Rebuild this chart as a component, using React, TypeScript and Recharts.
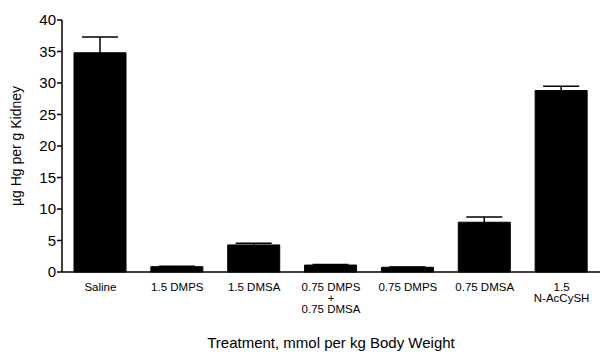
import { BarChart, Bar, XAxis, YAxis, ErrorBar, Cell } from "recharts";

const treatments = [
  "Saline",
  "1.5 DMPS",
  "1.5 DMSA",
  "0.75 DMPS|+|0.75 DMSA",
  "0.75 DMPS",
  "0.75 DMSA",
  "1.5|N-AcCySH",
];
const hgKidney = [34.8, 0.85, 4.3, 1.1, 0.75, 7.9, 28.8];
const sem = [2.5, 0.05, 0.25, 0.1, 0.05, 0.85, 0.7];
const yTicks = [0, 5, 10, 15, 20, 25, 30, 35, 40];

const FONT = "'Liberation Sans', Arial, sans-serif";

const data = treatments.map((name, i) => ({
  name,
  value: hgKidney[i],
  err: sem[i],
}));

function TreatmentTick(props: any) {
  const { x, y, payload } = props;
  const lines = String(payload.value).split("|");
  return (
    <text
      x={x}
      y={y}
      textAnchor="middle"
      fontFamily={FONT}
      fontSize={11.5}
      fill="#000"
    >
      {lines.map((line, i) => (
        <tspan key={i} x={x} dy={11}>
          {line}
        </tspan>
      ))}
    </text>
  );
}

export default function App() {
  return (
    <div style={{ position: "absolute", left: 0, top: 0, background: "#fff" }}>
      <BarChart
        width={600}
        height={352}
        data={data}
        margin={{ top: 20, right: 0, left: 0, bottom: 0 }}
      >
        <XAxis
          dataKey="name"
          height={80}
          tickLine={false}
          interval={0}
          axisLine={{ stroke: "#000", strokeWidth: 1.5 }}
          tick={<TreatmentTick />}
          label={{
            value: "Treatment, mmol per kg Body Weight",
            position: "insideBottom",
            offset: 4,
            fontFamily: FONT,
            fontSize: 15,
            fill: "#000",
          }}
        />
        <YAxis
          width={62}
          domain={[0, 40]}
          ticks={yTicks}
          interval={0}
          tickSize={5}
          tickMargin={1}
          axisLine={{ stroke: "#000", strokeWidth: 1.5 }}
          tickLine={{ stroke: "#000", strokeWidth: 1.5 }}
          tick={{ fontFamily: FONT, fontSize: 15, fill: "#000" }}
          label={{
            value: "µg Hg per g Kidney",
            angle: -90,
            position: "insideLeft",
            offset: 16,
            style: { textAnchor: "middle" },
            fontFamily: FONT,
            fontSize: 14,
            fill: "#000",
          }}
        />
        <Bar
          dataKey="value"
          barSize={52}
          fill="#000"
          stroke="#000"
          isAnimationActive={false}
        >
          {data.map((_, i) => (
            <Cell key={i} fill="#000" />
          ))}
          <ErrorBar
            dataKey="err"
            direction="y"
            width={18}
            stroke="#000"
            strokeWidth={1.5}
          />
        </Bar>
      </BarChart>
    </div>
  );
}
